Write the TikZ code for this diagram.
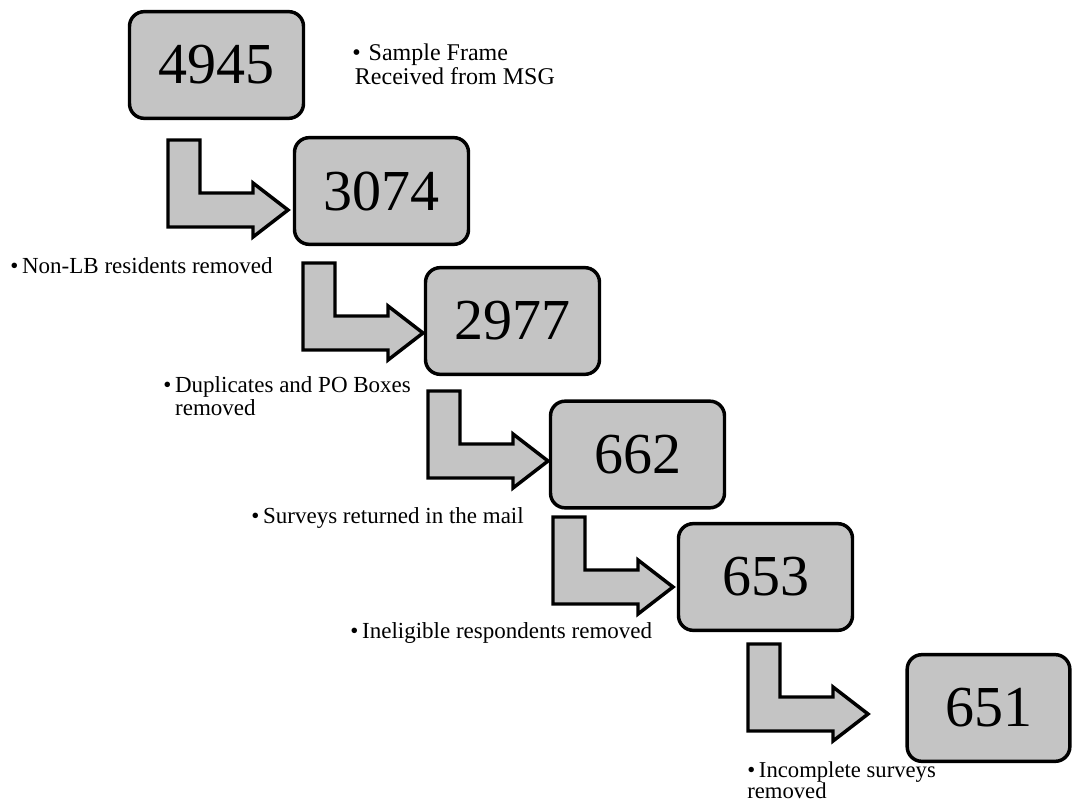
\documentclass[tikz,border=0pt]{standalone}
\usepackage{fontspec}
\setmainfont{Liberation Serif}
\definecolor{boxgray}{HTML}{C4C4C4}
\begin{document}
\begin{tikzpicture}[x=0.75pt,y=-0.75pt,
  numbox/.style={draw=black, line width=2.6pt, rounded corners=11pt, fill=boxgray,
    minimum width=130.5pt, minimum height=80pt, inner sep=0pt,
    font=\fontsize{43.5pt}{43.5pt}\selectfont},
  blockarrow/.style={draw=black, line width=2.6pt, fill=boxgray, line join=miter},
  lbl/.style={inner sep=0pt, align=left, font=\fontsize{17.25pt}{17.25pt}\selectfont}
]
\useasboundingbox (0,0) rectangle (1073,805);
% boxes
\node[numbox] (b1) at (216.5,65) {4945};
\node[numbox] (b2) at (381.5,191) {3074};
\node[numbox] (b3) at (512.5,321) {2977};
\node[numbox] (b4) at (637.5,454.5) {662};
\node[numbox] (b5) at (765.5,577) {653};
\node[numbox, minimum width=122pt] (b6) at (988.5,708) {651};
% arrow tips
\coordinate (a1) at (288,210);
\coordinate (a2) at (423,333);
\coordinate (a3) at (548,461);
\coordinate (a4) at (673,587);
\coordinate (a5) at (868,714);
\foreach \t in {a1,a2,a3,a4,a5}{
  \draw[blockarrow, shift={(\t)}] (-120,-70) -- (-88,-70) -- (-88,-17) -- (-35,-17)
     -- (-35,-27) -- (0,0) -- (-35,27) -- (-35,17) -- (-120,17) -- cycle;
}
% labels
\node[lbl, anchor=north west, font=\fontsize{18pt}{15pt}\selectfont] (l0) at (352,44)
  {\textbullet\hspace{6pt}Sample Frame\\\hspace{2pt}Received from MSG};
\node[lbl, anchor=west] (l1) at (10,266) {\textbullet\,Non-LB residents removed};
\node[lbl, anchor=north west] (l2) at (163,376)
  {\textbullet\,Duplicates and PO Boxes\\\hphantom{\textbullet\,}removed};
\node[lbl, anchor=west] (l3) at (251,518) {\textbullet\,Surveys returned in the mail};
\node[lbl, anchor=west] (l4) at (350,633) {\textbullet\,Ineligible respondents removed};
\node[lbl, anchor=north west, font=\fontsize{17pt}{13pt}\selectfont] (l5) at (747,761)
  {\textbullet\,Incomplete surveys\\removed};
\end{tikzpicture}
\end{document}
